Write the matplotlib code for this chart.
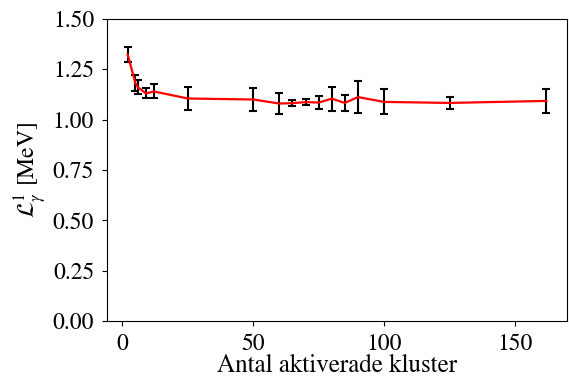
import matplotlib
matplotlib.use('Agg')
import matplotlib.pyplot as plt

plt.rcParams['font.family'] = ['STIXGeneral', 'Liberation Serif', 'DejaVu Serif']
plt.rcParams['mathtext.fontset'] = 'stix'

# number of activated clusters and fitted values
kluster = [2, 5, 6, 9, 12, 25, 50, 60, 65, 70, 75, 80, 85, 90, 100, 125, 162]
varde = [1.324, 1.18, 1.16, 1.13, 1.14, 1.105, 1.10, 1.08, 1.082, 1.087,
         1.085, 1.104, 1.083, 1.112, 1.088, 1.083, 1.093]
fel = [0.036, 0.04, 0.035, 0.025, 0.035, 0.055, 0.058, 0.05, 0.015, 0.015,
       0.032, 0.06, 0.04, 0.078, 0.062, 0.03, 0.058]

fig = plt.figure(figsize=(5.69, 3.79), dpi=100)
ax = fig.add_subplot(111)
fig.subplots_adjust(left=0.1875, right=0.997, top=0.95, bottom=0.153)

ax.errorbar(kluster, varde, yerr=fel, fmt='none', ecolor='black',
            elinewidth=1.5, capsize=3, capthick=1.5, zorder=2)
ax.plot(kluster, varde, color='red', linewidth=1.6, zorder=3)

ax.set_ylim(0, 1.5)
ax.set_yticks([0, 0.25, 0.5, 0.75, 1.0, 1.25, 1.5])
ax.set_xticks([0, 50, 100, 150])
ax.tick_params(labelsize=17, pad=5.5)
ax.set_xlabel('Antal aktiverade kluster', fontsize=18, labelpad=-1)
ax.set_ylabel(r'$\mathcal{L}_\gamma^1$ [MeV]', fontsize=17, labelpad=3)

plt.savefig('out.png', dpi=100)
plt.close()
